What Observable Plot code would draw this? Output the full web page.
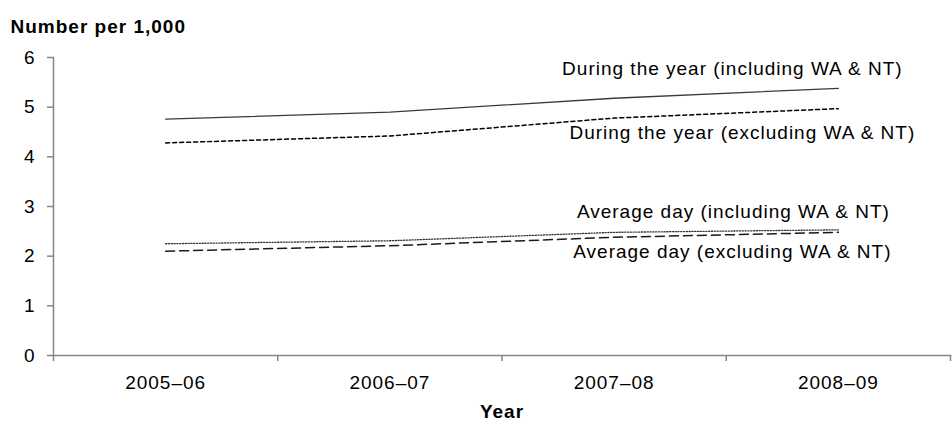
<!DOCTYPE html>
<html><head><meta charset="utf-8">
<script src="https://cdn.jsdelivr.net/npm/d3@7"></script>
<script src="https://cdn.jsdelivr.net/npm/@observablehq/plot@0.6"></script>
<style>body{margin:0;background:#fff} svg{display:block}</style>
</head><body><div id="chart"></div>
<script>
const years = ["2005–06", "2006–07", "2007–08", "2008–09"];
const duringIncl = [4.76, 4.90, 5.18, 5.38];
const duringExcl = [4.28, 4.42, 4.78, 4.97];
const avgIncl = [2.25, 2.31, 2.48, 2.53];
const avgExcl = [2.10, 2.21, 2.38, 2.48];
const seriesNames = [
  "During the year (including WA & NT)",
  "During the year (excluding WA & NT)",
  "Average day (including WA & NT)",
  "Average day (excluding WA & NT)"
];
const yTicks = [0, 1, 2, 3, 4, 5, 6];
const yTitle = "Number per 1,000";
const xTitle = "Year";

const seriesValues = [duringIncl, duringExcl, avgIncl, avgExcl];
const rows = seriesNames.flatMap((s, k) => years.map((y, i) => ({series: s, year: y, value: seriesValues[k][i]})));

const styles = [
  {stroke: "#3a3a3a", strokeWidth: 1.3, strokeDasharray: null, dx: -106, dy: -19},
  {stroke: "#000", strokeWidth: 1.5, strokeDasharray: "4,3", dx: -96, dy: 24},
  {stroke: "#333", strokeWidth: 1.3, strokeDasharray: "1.2,1.6", dx: -105, dy: -18},
  {stroke: "#1a1a1a", strokeWidth: 1.5, strokeDasharray: "9,5", dx: -106, dy: 20}
];

const xi = d => years.indexOf(d.year);
const font = {fontSize: 19, fill: "#000"};
const gray = "#868686";

const lineMarks = seriesNames.map((s, k) => Plot.line(rows.filter(d => d.series === s), {
  x: xi, y: "value",
  stroke: styles[k].stroke, strokeWidth: styles[k].strokeWidth,
  strokeDasharray: styles[k].strokeDasharray
}));
const labelMarks = seriesNames.map((s, k) => Plot.text(rows.filter(d => d.series === s && d.year === years[years.length - 1]), {
  x: xi, y: "value", text: "series", textAnchor: "middle",
  dx: styles[k].dx, dy: styles[k].dy, ...font
}));

const chart = Plot.plot({
  width: 952, height: 424,
  marginLeft: 53, marginRight: 2, marginTop: 57, marginBottom: 69,
  style: {fontFamily: "'Liberation Sans', Arial, sans-serif", letterSpacing: "1px", background: "#fff"},
  x: {type: "linear", domain: [-0.5, years.length - 0.5], axis: null},
  y: {domain: [0, 6], axis: null},
  marks: [
    Plot.frame({anchor: "left", stroke: gray, strokeWidth: 1.5}),
    Plot.frame({anchor: "bottom", stroke: gray, strokeWidth: 1.5}),
    Plot.axisY({ticks: yTicks, tickSize: 6, tickPadding: 12, tickFormat: d => String(d), stroke: gray, strokeWidth: 1.5, label: null, ...font}),
    Plot.axisX({ticks: years.map((_, i) => i - 0.5).concat(years.length - 0.5), tickSize: 6, tickFormat: () => "", stroke: gray, strokeWidth: 1.5, label: null}),
    Plot.axisX({ticks: years.map((_, i) => i), tickSize: 0, tickPadding: 20, tickFormat: i => years[i], label: null, ...font}),
    ...lineMarks,
    ...labelMarks,
    Plot.text([xTitle], {frameAnchor: "bottom", lineAnchor: "middle", dy: 56, text: d => d, fontWeight: "bold", fontSize: 19, fill: "#000"}),
    Plot.text([yTitle], {frameAnchor: "top-left", lineAnchor: "middle", dx: -43, dy: -31, text: d => d, textAnchor: "start", fontWeight: "bold", fontSize: 19, fill: "#000"})
  ]
});
document.getElementById("chart").append(chart);
</script>
</body></html>
